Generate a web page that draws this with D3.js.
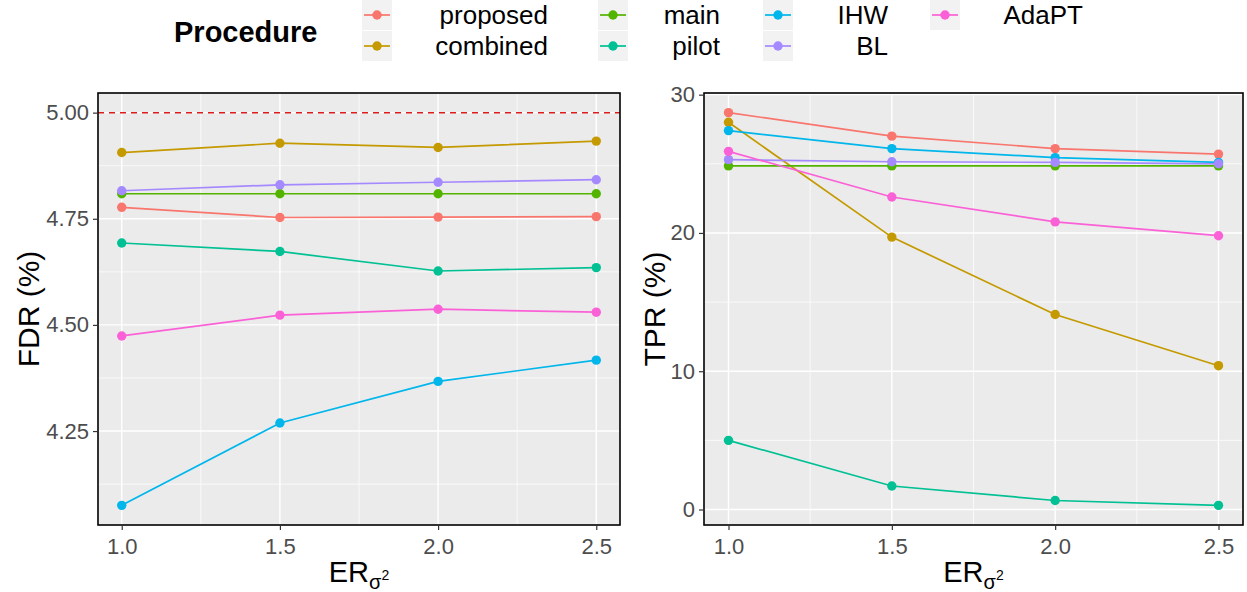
<!DOCTYPE html>
<html><head><meta charset="utf-8">
<script src="https://cdn.jsdelivr.net/npm/d3@7"></script>
<style>body{margin:0;background:#fff}svg{display:block;font-family:"Liberation Sans",Arial,sans-serif}</style>
</head><body>
<svg id="chart" width="1247" height="592"></svg>
<script>
const xValues = [1.0, 1.5, 2.0, 2.5];
const procedures = ["proposed","combined","main","pilot","IHW","BL","AdaPT"];
const colors = ["#F8766D","#C49A00","#53B400","#00C094","#00B6EB","#A58AFF","#FB61D7"];
const fdrProposed = [4.777, 4.753, 4.754, 4.755];
const fdrCombined = [4.906, 4.928, 4.918, 4.933];
const fdrMain     = [4.809, 4.809, 4.809, 4.809];
const fdrPilot    = [4.693, 4.673, 4.627, 4.635];
const fdrIHW      = [4.075, 4.269, 4.367, 4.417];
const fdrBL       = [4.816, 4.830, 4.836, 4.842];
const fdrAdaPT    = [4.474, 4.523, 4.537, 4.530];
const tprProposed = [28.7, 27.0, 26.1, 25.7];
const tprCombined = [28.0, 19.7, 14.1, 10.4];
const tprMain     = [24.85, 24.85, 24.85, 24.85];
const tprPilot    = [5.0, 1.7, 0.65, 0.3];
const tprIHW      = [27.4, 26.1, 25.45, 25.1];
const tprBL       = [25.3, 25.15, 25.1, 25.0];
const tprAdaPT    = [25.9, 22.6, 20.8, 19.8];
const fdrTarget = 5.0;
const fdrTicks = [4.25, 4.50, 4.75, 5.00];
const fdrMinor = [4.125, 4.375, 4.625, 4.875];
const tprTicks = [0, 10, 20, 30];
const tprMinor = [5, 15, 25];
const xTicks = [1.0, 1.5, 2.0, 2.5];
const xMinor = [1.25, 1.75, 2.25];

const fdrSeries = [fdrProposed, fdrCombined, fdrMain, fdrPilot, fdrIHW, fdrBL, fdrAdaPT];
const tprSeries = [tprProposed, tprCombined, tprMain, tprPilot, tprIHW, tprBL, tprAdaPT];

const svg = d3.select("#chart");
const color = d3.scaleOrdinal().domain(procedures).range(colors);

function expand(lo, hi){ const d=(hi-lo)*0.05; return [lo-d, hi+d]; }

function panel(opts){
  const {x0,x1,y0,y1,series,extra,yTicks,yMinor,yFmt,ylab,ylabOff,hline} = opts;
  const all = series.flat().concat(extra);
  const x = d3.scaleLinear().domain(expand(d3.min(xValues), d3.max(xValues))).range([x0,x1]);
  const y = d3.scaleLinear().domain(expand(d3.min(all), d3.max(all))).range([y1,y0]);
  const g = svg.append("g");
  g.append("rect").attr("x",x0).attr("y",y0).attr("width",x1-x0).attr("height",y1-y0).attr("fill","#EBEBEB");
  g.selectAll(".ymin").data(yMinor).join("line").attr("x1",x0).attr("x2",x1)
    .attr("y1",d=>y(d)).attr("y2",d=>y(d)).attr("stroke","#fff").attr("stroke-width",0.7);
  g.selectAll(".xmin").data(xMinor).join("line").attr("y1",y0).attr("y2",y1)
    .attr("x1",d=>x(d)).attr("x2",d=>x(d)).attr("stroke","#fff").attr("stroke-width",0.7);
  g.selectAll(".ymaj").data(yTicks).join("line").attr("x1",x0).attr("x2",x1)
    .attr("y1",d=>y(d)).attr("y2",d=>y(d)).attr("stroke","#fff").attr("stroke-width",1.4);
  g.selectAll(".xmaj").data(xTicks).join("line").attr("y1",y0).attr("y2",y1)
    .attr("x1",d=>x(d)).attr("x2",d=>x(d)).attr("stroke","#fff").attr("stroke-width",1.4);
  if (hline !== undefined){
    g.append("line").attr("x1",x0).attr("x2",x1).attr("y1",y(hline)).attr("y2",y(hline))
      .attr("stroke","#DD1C1C").attr("stroke-width",1.5).attr("stroke-dasharray","6,5");
  }
  const line = d3.line().x((d,i)=>x(xValues[i])).y(d=>y(d));
  series.forEach((s,k)=>{
    g.append("path").datum(s).attr("d",line).attr("fill","none")
      .attr("stroke",colors[k]).attr("stroke-width",1.7);
  });
  series.forEach((s,k)=>{
    g.selectAll(null).data(s).join("circle").attr("cx",(d,i)=>x(xValues[i])).attr("cy",d=>y(d))
      .attr("r",4.7).attr("fill",colors[k]);
  });
  g.append("rect").attr("x",x0).attr("y",y0).attr("width",x1-x0).attr("height",y1-y0)
    .attr("fill","none").attr("stroke","#000").attr("stroke-width",1.6);
  const ya = d3.axisLeft(y).tickValues(yTicks).tickFormat(yFmt).tickSize(5).tickPadding(4);
  const yg = g.append("g").attr("transform",`translate(${x0},0)`).call(ya);
  const xa = d3.axisBottom(x).tickValues(xTicks).tickFormat(d3.format(".1f")).tickSize(5).tickPadding(4);
  const xg = g.append("g").attr("transform",`translate(0,${y1})`).call(xa);
  [yg,xg].forEach(a=>{
    a.select(".domain").remove();
    a.selectAll(".tick line").attr("stroke","#333").attr("stroke-width",1.2);
    a.selectAll(".tick text").attr("fill","#4D4D4D").style("font-size","22px")
      .style("font-family","'Liberation Sans',Arial,sans-serif");
  });
  xg.selectAll(".tick text").attr("dy","0.9em");
  svg.append("text").attr("transform",`translate(${x0-ylabOff},${(y0+y1)/2}) rotate(-90)`)
    .attr("text-anchor","middle").attr("dy","0.35em").style("font-size","30px").attr("fill","#000").text(ylab);
  const xt = svg.append("text").attr("x",(x0+x1)/2).attr("y",582).attr("text-anchor","middle")
    .style("font-size","29px").attr("fill","#000");
  xt.append("tspan").text("ER");
  xt.append("tspan").text("σ").style("font-size","20px").attr("dy",7);
  xt.append("tspan").text("2").style("font-size","14px").attr("dy",-9);
}

panel({x0:98,x1:620,y0:93,y1:525,series:fdrSeries,extra:[fdrTarget],yTicks:fdrTicks,yMinor:fdrMinor,
  yFmt:d3.format(".2f"),ylab:"FDR (%)",ylabOff:70,hline:fdrTarget});
panel({x0:704,x1:1243,y0:93,y1:525,series:tprSeries,extra:[],yTicks:tprTicks,yMinor:tprMinor,
  yFmt:d3.format("d"),ylab:"TPR (%)",ylabOff:50});

const leg = svg.append("g");
leg.append("text").attr("x",174).attr("y",32).attr("dy","0.35em").style("font-size","29px")
  .style("font-weight","bold").text("Procedure");
const keyX = [362, 598, 763, 930];
const labelRight = [548, 720, 888, 1083];
const rowY = [0, 31];
procedures.forEach((p,i)=>{
  const col = Math.floor(i/2), row = i%2;
  const kx = keyX[col], ky = rowY[row];
  leg.append("rect").attr("x",kx).attr("y",ky).attr("width",30).attr("height",30).attr("fill","#F2F2F2");
  leg.append("line").attr("x1",kx+2).attr("x2",kx+28).attr("y1",ky+15).attr("y2",ky+15)
    .attr("stroke",color(p)).attr("stroke-width",1.7);
  leg.append("circle").attr("cx",kx+15).attr("cy",ky+15).attr("r",4.7).attr("fill",color(p));
  leg.append("text").attr("x",labelRight[col]).attr("y",ky+15).attr("dy","0.35em")
    .attr("text-anchor","end").style("font-size","26px").text(p);
});
</script>
</body></html>
